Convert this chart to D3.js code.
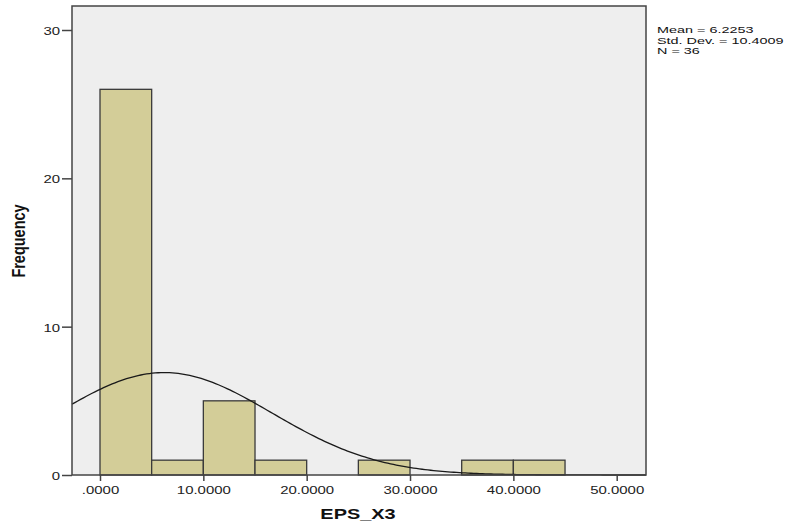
<!DOCTYPE html>
<html>
<head>
<meta charset="utf-8">
<script src="https://cdn.jsdelivr.net/npm/d3@7"></script>
<style>
  body { margin: 0; background: #fff; }
  text { font-family: "Liberation Sans", Arial, sans-serif; }
</style>
</head>
<body>
<div id="chart"></div>
<script>
// histogram bins (lower edge, width 5) and counts
var binStarts = [0, 5, 10, 15, 20, 25, 30, 35, 40],
    binCounts = [26, 1, 5, 1, 0, 1, 0, 1, 1],
    binWidth = 5;
var xTicks = [0, 10, 20, 30, 40, 50],
    yTicks = [0, 10, 20, 30];
var statLines = ["Mean = 6.2253", "Std. Dev. = 10.4009", "N = 36"];
var mean = 6.2253, sd = 10.4009, n = 36;

var width = 792, height = 528,
    frame = {left: 72, right: 646, top: 6, bottom: 475},
    stretch = 1.3;   // text in the original looks wider than tall

var svg = d3.select("#chart").append("svg")
    .attr("width", width)
    .attr("height", height);

var x = d3.scaleLinear().domain([0, 50]).range([100, 616.7]);
var y = d3.scaleLinear().domain([0, 30]).range([frame.bottom, 30]);

// plot background
svg.append("rect")
    .attr("x", frame.left).attr("y", frame.top)
    .attr("width", frame.right - frame.left)
    .attr("height", frame.bottom - frame.top)
    .attr("fill", "#eeeeee");

// bars
svg.selectAll(".bar")
    .data(binStarts.map(function(s, i) { return {x0: s, count: binCounts[i]}; })
        .filter(function(d) { return d.count > 0; }))
  .enter().append("rect")
    .attr("class", "bar")
    .attr("x", function(d) { return x(d.x0); })
    .attr("y", function(d) { return y(d.count); })
    .attr("width", function(d) { return x(d.x0 + binWidth) - x(d.x0); })
    .attr("height", function(d) { return y(0) - y(d.count); })
    .attr("fill", "#d3cd98")
    .attr("stroke", "#3a3a3a")
    .attr("stroke-width", 1.3);

// normal curve
var xMin = x.invert(frame.left), xMax = x.invert(frame.right);
var curve = d3.range(0, 201).map(function(i) {
    var v = xMin + (xMax - xMin) * i / 200;
    var dens = Math.exp(-0.5 * Math.pow((v - mean) / sd, 2)) / (sd * Math.sqrt(2 * Math.PI));
    return [v, dens * n * binWidth];
});
svg.append("path")
    .datum(curve)
    .attr("fill", "none")
    .attr("stroke", "#1a1a1a")
    .attr("stroke-width", 1.3)
    .attr("d", d3.line()
        .x(function(d) { return x(d[0]); })
        .y(function(d) { return y(d[1]); }));

// frame
svg.append("rect")
    .attr("x", frame.left).attr("y", frame.top)
    .attr("width", frame.right - frame.left)
    .attr("height", frame.bottom - frame.top)
    .attr("fill", "none")
    .attr("stroke", "#444")
    .attr("stroke-width", 1.5);

// axes
var xAxis = svg.append("g")
    .attr("transform", "translate(0," + frame.bottom + ")")
    .call(d3.axisBottom(x).tickValues(xTicks).tickSize(6)
        .tickFormat(function(d) { return d === 0 ? ".0000" : d3.format(".4f")(d); }));
xAxis.select(".domain").remove();
xAxis.selectAll("line").attr("stroke", "#444").attr("stroke-width", 1.5);
xAxis.selectAll("text")
    .attr("y", 19).attr("dy", 0)
    .attr("transform", "scale(" + stretch + ",1)")
    .attr("font-size", 11.5).attr("fill", "#222")
    .style("font-family", "'Liberation Sans', Arial, sans-serif");

var yAxis = svg.append("g")
    .attr("transform", "translate(" + frame.left + ",0)")
    .call(d3.axisLeft(y).tickValues(yTicks).tickSize(10));
yAxis.select(".domain").remove();
yAxis.selectAll("line").attr("stroke", "#444").attr("stroke-width", 1.5);
yAxis.selectAll("text")
    .attr("x", -12 / stretch).attr("dy", "0.4em")
    .attr("transform", "scale(" + stretch + ",1)")
    .attr("font-size", 11.5).attr("fill", "#222")
    .style("font-family", "'Liberation Sans', Arial, sans-serif");

// axis titles
svg.append("text")
    .attr("transform", "translate(358,519) scale(1.33,1)")
    .attr("text-anchor", "middle")
    .attr("font-size", 15).attr("font-weight", "bold").attr("fill", "#111")
    .text("EPS_X3");
svg.append("text")
    .attr("transform", "translate(25,241) scale(" + stretch + ",1) rotate(-90)")
    .attr("text-anchor", "middle")
    .attr("font-size", 14.5).attr("font-weight", "bold").attr("fill", "#111")
    .text("Frequency");

// stats legend
svg.append("g").selectAll("text")
    .data(statLines)
  .enter().append("text")
    .attr("transform", function(d, i) {
        return "translate(657," + (33 + i * 10.5) + ") scale(1.6,1)";
    })
    .attr("font-size", 9).attr("fill", "#111")
    .text(function(d) { return d; });
</script>
</body>
</html>
